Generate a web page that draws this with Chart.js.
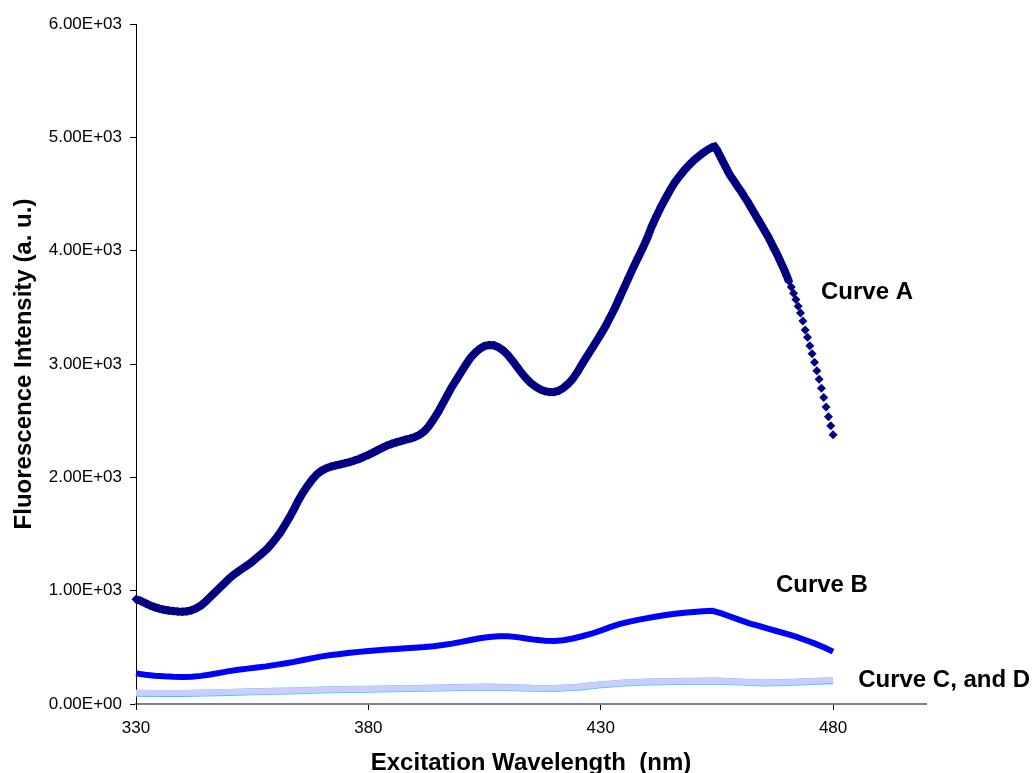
<!DOCTYPE html>
<html>
<head>
<meta charset="utf-8">
<title>Excitation spectra</title>
<script src="https://cdn.jsdelivr.net/npm/chart.js@4.4.1/dist/chart.umd.min.js"></script>
<style>
  html, body { margin: 0; padding: 0; background: #fff; }
  #wrap { width: 1036px; height: 773px; position: relative; }
</style>
</head>
<body>
<div id="wrap"><canvas id="spectra"></canvas></div>
<script>
// Excitation spectra, curves A to D (intensity in a. u.)

// Curve A: 1 nm steps up to 454 nm, then 0.5 nm steps to 480 nm
const wlA = [
  330, 331, 332, 333, 334, 335, 336, 337, 338, 339,
  340, 341, 342, 343, 344, 345, 346, 347, 348, 349,
  350, 351, 352, 353, 354, 355, 356, 357, 358, 359,
  360, 361, 362, 363, 364, 365, 366, 367, 368, 369,
  370, 371, 372, 373, 374, 375, 376, 377, 378, 379,
  380, 381, 382, 383, 384, 385, 386, 387, 388, 389,
  390, 391, 392, 393, 394, 395, 396, 397, 398, 399,
  400, 401, 402, 403, 404, 405, 406, 407, 408, 409,
  410, 411, 412, 413, 414, 415, 416, 417, 418, 419,
  420, 421, 422, 423, 424, 425, 426, 427, 428, 429,
  430, 431, 432, 433, 434, 435, 436, 437, 438, 439,
  440, 441, 442, 443, 444, 445, 446, 447, 448, 449,
  450, 451, 452, 453, 454,
  454.5, 455, 455.5, 456, 456.5, 457, 457.5, 458, 458.5, 459,
  459.5, 460, 460.5, 461, 461.5, 462, 462.5, 463, 463.5, 464,
  464.5, 465, 465.5, 466, 466.5, 467, 467.5, 468, 468.5, 469,
  469.5, 470, 470.5, 471, 471.5, 472, 472.5, 473, 473.5, 474,
  474.5, 475, 475.5, 476, 476.5, 477, 477.5, 478, 478.5, 479,
  479.5, 480
];
const intensityA = [
  925, 910, 890, 870, 855, 842, 832, 825, 820, 817,
  815, 818, 828, 845, 870, 905, 945, 985, 1025, 1065,
  1105, 1140, 1170, 1198, 1225, 1255, 1290, 1325, 1360, 1405,
  1455, 1510, 1575, 1645, 1720, 1800, 1870, 1930, 1985, 2030,
  2060, 2080, 2095, 2105, 2115, 2125, 2135, 2148, 2162, 2180,
  2198, 2218, 2240, 2260, 2280, 2295, 2308, 2320, 2332, 2342,
  2355, 2375, 2405, 2450, 2510, 2575, 2650, 2725, 2800, 2865,
  2930, 2995, 3055, 3100, 3135, 3158, 3168, 3165, 3148, 3120,
  3080, 3030, 2975, 2920, 2872, 2830, 2800, 2775, 2760, 2752,
  2752, 2765, 2790, 2825, 2870, 2930, 3000, 3065, 3130, 3195,
  3262, 3330, 3410, 3490, 3580, 3670, 3760, 3850, 3935, 4020,
  4110, 4215, 4305, 4390, 4465, 4540, 4605, 4660, 4710, 4755,
  4795, 4830, 4862, 4890, 4912,
  4918, 4890, 4850, 4810, 4770, 4730, 4690, 4655, 4625, 4595,
  4565, 4535, 4505, 4470, 4440, 4405, 4370, 4335, 4300, 4265,
  4230, 4195, 4160, 4125, 4085, 4045, 4005, 3965, 3920, 3875,
  3830, 3780, 3730, 3680, 3625, 3570, 3510, 3450, 3380, 3300,
  3235, 3160, 3090, 3015, 2940, 2865, 2785, 2705, 2620, 2535,
  2455, 2375
];

// Curve B: 2 nm steps
const wlB = [
  330, 332, 334, 336, 338, 340, 342, 344, 346, 348,
  350, 352, 354, 356, 358, 360, 362, 364, 366, 368,
  370, 372, 374, 376, 378, 380, 382, 384, 386, 388,
  390, 392, 394, 396, 398, 400, 402, 404, 406, 408,
  410, 412, 414, 416, 418, 420, 422, 424, 426, 428,
  430, 432, 434, 436, 438, 440, 442, 444, 446, 448,
  450, 452, 454, 456, 458, 460, 462, 464, 466, 468,
  470, 472, 474, 476, 478, 480
];
const intensityB = [
  270, 258, 250, 244, 240, 238, 240, 248, 260, 275,
  290, 302, 312, 322, 332, 345, 358, 372, 388, 405,
  420, 432, 442, 452, 460, 467, 474, 480, 486, 492,
  497, 502, 510, 520, 533, 548, 565, 580, 592, 598,
  597, 590, 578, 566, 558, 556, 562, 578, 598, 620,
  648, 678, 705, 725, 742, 758, 772, 785, 797, 806,
  812, 818, 822, 800, 770, 740, 712, 690, 665, 642,
  618, 594, 565, 535, 500, 462
];

// Curves C and D: 5 nm steps
const wlCD = [
  330, 335, 340, 345, 350, 355, 360, 365, 370, 375,
  380, 385, 390, 395, 400, 405, 410, 415, 420, 425,
  430, 435, 440, 445, 450, 455, 460, 465, 470, 475, 480
];
const intensityC = [
  100, 98, 96, 100, 105, 110, 115, 120, 126, 130,
  133, 136, 138, 142, 148, 152, 148, 140, 138, 150,
  172, 188, 196, 200, 203, 205, 196, 188, 192, 200, 212
];
const intensityD = [
  95, 92, 92, 96, 102, 107, 112, 118, 124, 128,
  131, 134, 137, 141, 146, 150, 146, 138, 136, 148,
  170, 186, 194, 198, 201, 202, 194, 186, 190, 198, 205
];

const xTicks = [330, 380, 430, 480];
const yTicks = [0, 1000, 2000, 3000, 4000, 5000, 6000];

// curve names, anchored in data coordinates (left edge, baseline)
const curveNames = ["Curve A", "Curve B", "Curve C, and D"];
const nameX = [477.4, 467.7, 485.4];
const nameY = [3570, 990, 150];

const NAVY = "#000080";

function pts(xs, ys) {
  return xs.map((x, i) => ({ x: x, y: ys[i] }));
}

// Excel style scientific label, e.g. 6.00E+03
function sciLabel(v) {
  const [m, e] = Number(v).toExponential(2).split("e");
  const n = parseInt(e, 10);
  return m + "E" + (n < 0 ? "-" : "+") + String(Math.abs(n)).padStart(2, "0");
}

const textPlugin = {
  id: "spectraText",
  afterDraw(chart) {
    const { ctx, chartArea, scales } = chart;
    ctx.save();
    ctx.fillStyle = "#000";
    ctx.font = "bold 24px 'Liberation Sans', Arial, sans-serif";

    // axis titles
    ctx.textAlign = "center";
    ctx.textBaseline = "alphabetic";
    ctx.fillText("Excitation Wavelength  (nm)", (chartArea.left + chartArea.right) / 2, 770);

    ctx.save();
    ctx.translate(24, (chartArea.top + chartArea.bottom) / 2);
    ctx.rotate(-Math.PI / 2);
    ctx.textBaseline = "middle";
    ctx.fillText("Fluorescence Intensity (a. u.)", 0, 0);
    ctx.restore();

    // curve names
    ctx.textAlign = "left";
    ctx.textBaseline = "alphabetic";
    curveNames.forEach((name, i) => {
      ctx.fillText(name, scales.x.getPixelForValue(nameX[i]), scales.y.getPixelForValue(nameY[i]));
    });
    ctx.restore();
  }
};

// first dataset is painted last, so A sits on top and D at the bottom
new Chart(document.getElementById("spectra"), {
  type: "scatter",
  data: {
    datasets: [
      {
        label: "Curve A",
        data: pts(wlA, intensityA),
        showLine: true,
        borderColor: NAVY,
        borderWidth: 8,
        // the steep tail shows only the separate markers
        segment: {
          borderColor: (c) => (c.p0.parsed.x >= 470.5 ? "rgba(0,0,0,0)" : NAVY)
        },
        pointStyle: "rectRot",
        pointRadius: 4.5,
        pointBorderWidth: 0,
        pointBackgroundColor: NAVY,
        clip: false
      },
      {
        label: "Curve B",
        data: pts(wlB, intensityB),
        showLine: true,
        borderColor: "#0000FF",
        borderWidth: 6,
        pointRadius: 0,
        clip: false
      },
      {
        label: "Curve C",
        data: pts(wlCD, intensityC),
        showLine: true,
        borderColor: "#CCCCFF",
        borderWidth: 6,
        pointRadius: 0,
        clip: false
      },
      {
        label: "Curve D",
        data: pts(wlCD, intensityD),
        showLine: true,
        borderColor: "#33CCFF",
        borderWidth: 7,
        pointRadius: 0,
        clip: false
      }
    ]
  },
  options: {
    responsive: true,
    maintainAspectRatio: false,
    animation: false,
    events: [],
    layout: { padding: { left: 0, right: 110, top: 24, bottom: 0 } },
    plugins: {
      legend: { display: false },
      tooltip: { enabled: false }
    },
    scales: {
      x: {
        type: "linear",
        min: 330,
        max: 500,
        afterBuildTicks: (scale) => { scale.ticks = xTicks.map((v) => ({ value: v })); },
        afterFit: (scale) => { scale.height = 69; },
        border: { display: true, color: "#808080", width: 2 },
        grid: { drawOnChartArea: false, drawTicks: true, tickLength: 6, tickColor: "#000" },
        ticks: {
          color: "#000",
          padding: 8,
          maxRotation: 0,
          font: { family: "'Liberation Sans', Arial, sans-serif", size: 17 }
        }
      },
      y: {
        min: 0,
        max: 6000,
        afterBuildTicks: (scale) => { scale.ticks = yTicks.map((v) => ({ value: v })); },
        afterFit: (scale) => { scale.width = 136; },
        border: { display: true, color: "#000", width: 1 },
        grid: { drawOnChartArea: false, drawTicks: true, tickLength: 6, tickColor: "#000" },
        ticks: {
          color: "#000",
          padding: 8,
          callback: (v) => sciLabel(v),
          font: { family: "'Liberation Sans', Arial, sans-serif", size: 17 }
        }
      }
    }
  },
  plugins: [textPlugin]
});
</script>
</body>
</html>
